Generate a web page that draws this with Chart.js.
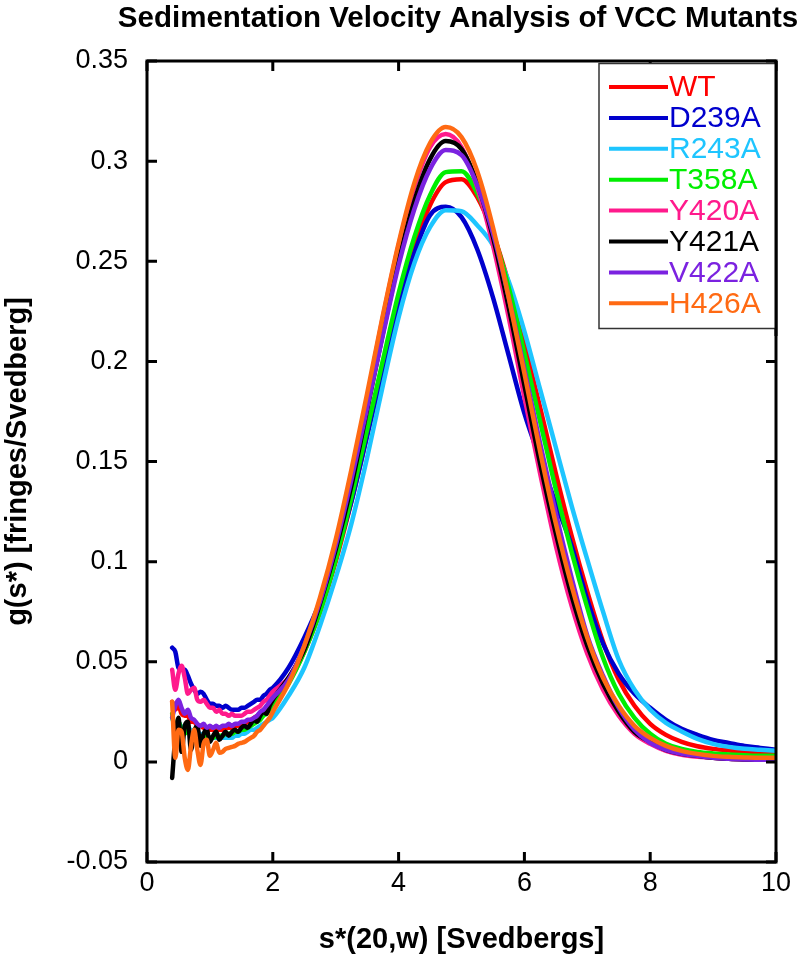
<!DOCTYPE html>
<html>
<head>
<meta charset="utf-8">
<script src="https://cdn.jsdelivr.net/npm/chart.js@4.4.1/dist/chart.umd.min.js"></script>
<style>
html,body{margin:0;padding:0;background:#fff;}
#wrap{width:800px;height:964px;}
</style>
</head>
<body>
<div id="wrap"><canvas id="c" width="800" height="964"></canvas></div>
<script>
// ---------- data ----------
const chartTitle = 'Sedimentation Velocity Analysis of VCC Mutants';
const xTitle = 's*(20,w) [Svedbergs]';
const yTitle = 'g(s*) [fringes/Svedberg]';
const xTicks = [0, 2, 4, 6, 8, 10];
const yTicks = [-0.05, 0, 0.05, 0.1, 0.15, 0.2, 0.25, 0.3, 0.35];

const sValues = [0.40,0.45,0.50,0.55,0.60,0.65,0.70,0.75,0.80,0.85,0.90,0.95,1.00,1.05,1.10,1.15,
  1.20,1.25,1.30,1.35,1.40,1.45,1.50,1.55,1.60,1.65,1.70,1.75,1.80,1.85,1.90,1.95,
  2.00,2.25,2.50,2.75,3.00,3.25,3.50,3.75,4.00,4.25,4.50,4.75,5.00,5.25,5.50,5.75,
  6.00,6.25,6.50,6.75,7.00,7.25,7.50,7.75,8.00,8.25,8.50,8.75,9.00,9.25,9.50,9.75,10.00];

const seriesNames = ['WT','D239A','R243A','T358A','Y420A','Y421A','V422A','H426A'];
const seriesColors = ['#ff0000','#0000cd','#1ec5ff','#00ee00','#ff1a8c','#000000','#7b22e0','#ff6a13'];

const WT = [0.030,0.026,0.028,0.024,0.023,0.023,0.020,0.020,0.018,0.018,0.017,0.017,0.016,0.016,0.016,0.016,
  0.016,0.017,0.017,0.017,0.018,0.018,0.019,0.019,0.020,0.021,0.022,0.023,0.024,0.026,0.027,0.029,
  0.031,0.040,0.055,0.075,0.100,0.130,0.163,0.197,0.229,0.257,0.278,0.2895,0.291,0.282,0.264,0.239,
  0.209,0.177,0.144,0.113,0.085,0.060,0.041,0.028,0.019,0.0135,0.010,0.0078,0.0065,0.0057,0.0051,0.0047,0.0045];
const D239A = [0.057,0.055,0.047,0.046,0.046,0.043,0.039,0.036,0.034,0.035,0.034,0.031,0.029,0.029,0.028,0.028,
  0.027,0.028,0.027,0.026,0.026,0.026,0.027,0.027,0.028,0.029,0.030,0.031,0.031,0.033,0.034,0.036,
  0.037,0.047,0.062,0.080,0.103,0.130,0.163,0.196,0.228,0.254,0.273,0.2772,0.272,0.256,0.232,0.203,
  0.174,0.151,0.129,0.108,0.081,0.059,0.044,0.034,0.027,0.021,0.0165,0.0135,0.011,0.0095,0.008,0.007,0.006];
const R243A = [0.022,0.018,0.020,0.017,0.018,0.016,0.016,0.015,0.014,0.014,0.013,0.013,0.012,0.012,0.012,0.012,
  0.012,0.012,0.012,0.012,0.013,0.013,0.014,0.014,0.015,0.016,0.016,0.017,0.018,0.019,0.020,0.021,
  0.022,0.033,0.047,0.068,0.092,0.119,0.152,0.188,0.222,0.249,0.267,0.2755,0.275,0.268,0.258,0.240,
  0.215,0.186,0.157,0.128,0.101,0.075,0.051,0.036,0.026,0.0195,0.0152,0.0115,0.009,0.0075,0.0065,0.006,0.0055];
const T358A = [0.024,0.015,0.020,0.016,0.014,0.016,0.013,0.014,0.012,0.012,0.013,0.012,0.012,0.012,0.013,0.013,
  0.013,0.014,0.014,0.014,0.015,0.015,0.016,0.016,0.017,0.018,0.019,0.020,0.021,0.023,0.024,0.026,
  0.028,0.039,0.055,0.075,0.101,0.132,0.166,0.2005,0.234,0.262,0.283,0.2945,0.295,0.284,0.264,0.237,
  0.204,0.170,0.136,0.105,0.077,0.052,0.034,0.022,0.014,0.009,0.0065,0.005,0.0042,0.0037,0.0033,0.003,0.003];
const Y420A = [0.046,0.036,0.044,0.048,0.042,0.034,0.036,0.037,0.031,0.030,0.031,0.029,0.027,0.027,0.025,0.026,
  0.024,0.024,0.023,0.024,0.023,0.023,0.023,0.024,0.025,0.025,0.026,0.027,0.028,0.030,0.031,0.033,
  0.035,0.042,0.057,0.080,0.108,0.144,0.182,0.222,0.258,0.287,0.307,0.3135,0.307,0.287,0.258,0.222,
  0.182,0.144,0.108,0.078,0.054,0.036,0.023,0.014,0.009,0.0055,0.0035,0.0025,0.002,0.0015,0.0012,0.001,0.001];
const Y421A = [-0.008,0.012,0.022,0.005,0.018,0.020,0.006,0.015,0.018,0.008,0.014,0.016,0.010,0.013,0.015,0.011,
  0.013,0.015,0.013,0.015,0.016,0.015,0.017,0.018,0.017,0.019,0.021,0.020,0.023,0.025,0.024,0.028,
  0.031,0.042,0.056,0.079,0.106,0.138,0.176,0.214,0.250,0.280,0.301,0.310,0.306,0.289,0.262,0.227,
  0.188,0.149,0.114,0.083,0.058,0.039,0.025,0.015,0.010,0.006,0.004,0.003,0.002,0.0015,0.0012,0.001,0.001];
const V422A = [0.022,0.028,0.031,0.027,0.024,0.026,0.022,0.021,0.019,0.018,0.019,0.017,0.018,0.017,0.018,0.017,
  0.018,0.018,0.019,0.018,0.019,0.019,0.020,0.020,0.021,0.021,0.022,0.023,0.025,0.026,0.028,0.030,
  0.032,0.041,0.058,0.080,0.108,0.141,0.177,0.213,0.248,0.276,0.296,0.3055,0.303,0.288,0.264,0.232,
  0.196,0.159,0.124,0.092,0.063,0.043,0.027,0.016,0.0095,0.006,0.004,0.003,0.002,0.0015,0.0012,0.001,0.001];
const H426A = [0.030,0.002,0.016,0.015,0.002,-0.004,0.008,0.016,0.006,-0.0015,0.009,0.011,0.003,0.006,0.0095,0.0045,
  0.005,0.0065,0.007,0.0075,0.008,0.009,0.0095,0.010,0.011,0.012,0.013,0.015,0.016,0.018,0.020,0.022,
  0.025,0.039,0.058,0.082,0.111,0.146,0.184,0.223,0.259,0.289,0.309,0.317,0.312,0.295,0.267,0.232,
  0.194,0.155,0.119,0.088,0.062,0.042,0.028,0.018,0.012,0.008,0.0055,0.004,0.003,0.0025,0.0022,0.002,0.002];

const seriesValues = [WT, D239A, R243A, T358A, Y420A, Y421A, V422A, H426A];

// ---------- chart ----------
const FONT = "'Liberation Sans', Arial, Helvetica, sans-serif";

const datasets = seriesNames.map((name, i) => ({
  label: name,
  data: sValues.map((s, k) => ({x: s, y: seriesValues[i][k]})).filter(p => p.y !== undefined),
  borderColor: seriesColors[i],
  backgroundColor: seriesColors[i],
  borderWidth: 4.5,
  pointRadius: 0,
  fill: false,
  cubicInterpolationMode: 'monotone',
  order: seriesNames.length - i,
  borderJoinStyle: 'round',
  borderCapStyle: 'round'
}));

const framePlugin = {
  id: 'frame',
  afterDraw(chart) {
    const {ctx, chartArea: a, scales} = chart;
    ctx.save();
    ctx.strokeStyle = '#000';
    ctx.lineWidth = 3;
    ctx.lineCap = 'butt';
    const L = 10;
    ctx.beginPath();
    scales.x.ticks.forEach(t => {
      const px = scales.x.getPixelForValue(t.value);
      ctx.moveTo(px, a.bottom); ctx.lineTo(px, a.bottom - L);
      ctx.moveTo(px, a.top); ctx.lineTo(px, a.top + L);
    });
    scales.y.ticks.forEach(t => {
      const py = scales.y.getPixelForValue(t.value);
      ctx.moveTo(a.left, py); ctx.lineTo(a.left + L, py);
      ctx.moveTo(a.right, py); ctx.lineTo(a.right - L, py);
    });
    ctx.stroke();
    ctx.strokeRect(a.left, a.top, a.right - a.left, a.bottom - a.top);
    ctx.restore();
  }
};

const legendPlugin = {
  id: 'boxLegend',
  afterDraw(chart) {
    const {ctx, chartArea: a} = chart;
    const x0 = 599, y0 = 63.5, w = a.right - 599, h = 265;
    ctx.save();
    ctx.fillStyle = '#fff';
    ctx.fillRect(x0, y0, w, h);
    ctx.strokeStyle = '#333';
    ctx.lineWidth = 1.5;
    ctx.strokeRect(x0, y0, w, h);
    ctx.font = '30px ' + FONT;
    ctx.textBaseline = 'middle';
    ctx.textAlign = 'left';
    chart.data.datasets.forEach((ds, i) => {
      const y = 87 + i * 30.9;
      ctx.strokeStyle = ds.borderColor;
      ctx.lineWidth = 4;
      ctx.beginPath();
      ctx.moveTo(609, y); ctx.lineTo(668, y);
      ctx.stroke();
      ctx.fillStyle = ds.borderColor;
      ctx.fillText(ds.label, 669, y + 1);
    });
    ctx.strokeStyle = '#000';
    ctx.lineWidth = 3;
    ctx.beginPath();
    ctx.moveTo(a.right, a.top); ctx.lineTo(a.right, a.top + h + 10);
    ctx.stroke();
    ctx.restore();
  }
};

const titlePlugin = {
  id: 'topTitle',
  afterDraw(chart) {
    const {ctx, chartArea: a} = chart;
    ctx.save();
    ctx.font = 'bold 29.5px ' + FONT;
    ctx.fillStyle = '#000';
    ctx.textAlign = 'center';
    ctx.textBaseline = 'middle';
    ctx.fillText(chartTitle, 458, 19);
    ctx.restore();
  }
};

new Chart(document.getElementById('c'), {
  type: 'line',
  data: {datasets},
  options: {
    responsive: false,
    animation: false,
    devicePixelRatio: 1,
    layout: {padding: {top: 61, right: 24, left: 0, bottom: 0}},
    plugins: {legend: {display: false}, title: {display: false}, tooltip: {enabled: false}},
    scales: {
      x: {
        type: 'linear', min: 0, max: 10,
        afterBuildTicks(scale) { scale.ticks = xTicks.map(v => ({value: v})); },
        afterFit(scale) { scale.height = 102; },
        ticks: {color: '#000', font: {family: FONT, size: 27}, padding: 5,
                callback: v => String(v), maxRotation: 0, autoSkip: false},
        grid: {display: false, drawTicks: false},
        border: {display: false},
        title: {display: true, text: xTitle, color: '#000',
                font: {family: FONT, size: 29, weight: 'bold'}, padding: {top: 0, bottom: 7}}
      },
      y: {
        type: 'linear', min: -0.05, max: 0.35,
        afterBuildTicks(scale) { scale.ticks = yTicks.map(v => ({value: v})); },
        afterFit(scale) { scale.width = 147; },
        ticks: {color: '#000', font: {family: FONT, size: 27}, padding: 19, autoSkip: false,
                callback: v => String(parseFloat(Number(v).toFixed(2)))},
        grid: {display: false, drawTicks: false},
        border: {display: false},
        title: {display: true, text: yTitle, color: '#000',
                font: {family: FONT, size: 29, weight: 'bold'}, padding: {top: 1, bottom: 0}}
      }
    }
  },
  plugins: [framePlugin, legendPlugin, titlePlugin]
});
</script>
</body>
</html>
